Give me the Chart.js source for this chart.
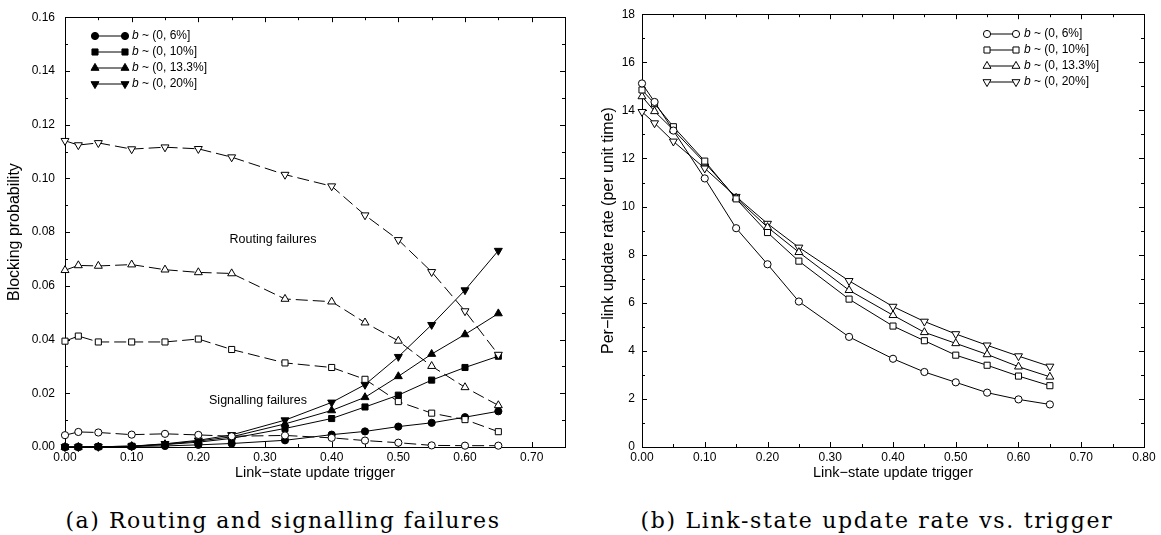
<!DOCTYPE html>
<html>
<head>
<meta charset="utf-8">
<script src="https://cdn.jsdelivr.net/npm/chart.js@4.4.0/dist/chart.umd.min.js"></script>
<style>
  body { margin: 0; background: #fff; width: 1161px; height: 535px; overflow: hidden; position: relative; }
  canvas { position: absolute; top: 0; }
  #leftChart { left: 0; }
  #rightChart { left: 580px; }
  .caption { position: absolute; top: 507px; font-family: "DejaVu Serif", serif; font-size: 22px; line-height: 27px; color: #000; white-space: nowrap; }
</style>
</head>
<body>
<canvas id="leftChart" width="580" height="482"></canvas>
<canvas id="rightChart" width="581" height="482"></canvas>
<div class="caption" id="capA">(a) Routing and signalling failures</div>
<div class="caption" id="capB">(b) Link-state update rate vs. trigger</div>
<script>
const triggerValues = [0, 0.02, 0.05, 0.10, 0.15, 0.20, 0.25, 0.33, 0.40, 0.45, 0.50, 0.55, 0.60, 0.65];
const seriesLabels = ['(0, 6%]', '(0, 10%]', '(0, 13.3%]', '(0, 20%]'];

// tick labels
const leftXTicks = [0, 0.1, 0.2, 0.3, 0.4, 0.5, 0.6, 0.7];
const rightXTicks = [0, 0.1, 0.2, 0.3, 0.4, 0.5, 0.6, 0.7, 0.8];
const leftYTicks = [0, 0.02, 0.04, 0.06, 0.08, 0.10, 0.12, 0.14, 0.16];
const rightYTicks = [0, 2, 4, 6, 8, 10, 12, 14, 16, 18];

// routing failures (open markers, dashed)
const routing6 = [0.0044, 0.0056, 0.0054, 0.0046, 0.0049, 0.0045, 0.0040, 0.0043, 0.0034, 0.0024, 0.0016, 0.0006, 0.0005, 0.0005];
const routing10 = [0.0394, 0.0413, 0.0391, 0.0391, 0.0391, 0.0402, 0.0363, 0.0313, 0.0296, 0.0252, 0.0169, 0.0126, 0.0102, 0.0057];
const routing133 = [0.0658, 0.0676, 0.0674, 0.0679, 0.0660, 0.0650, 0.0646, 0.0551, 0.0541, 0.0463, 0.0395, 0.0301, 0.0222, 0.0155];
const routing20 = [0.1140, 0.1124, 0.1132, 0.1109, 0.1116, 0.1110, 0.1079, 0.1014, 0.0971, 0.0863, 0.0771, 0.0652, 0.0506, 0.0344];

// signalling failures (filled markers, solid)
const signal6 = [0, 0, 0.0001, 0.0002, 0.0004, 0.0008, 0.0013, 0.0025, 0.0046, 0.0058, 0.0076, 0.0090, 0.0111, 0.0133];
const signal10 = [0, 0, 0.0001, 0.0003, 0.0009, 0.0018, 0.0032, 0.0069, 0.0106, 0.0149, 0.0193, 0.0249, 0.0296, 0.0338];
const signal133 = [0, 0, 0.0001, 0.0003, 0.0010, 0.0022, 0.0038, 0.0086, 0.0136, 0.0185, 0.0263, 0.0346, 0.0419, 0.0497];
const signal20 = [0, 0, 0.0001, 0.0003, 0.0012, 0.0025, 0.0045, 0.0100, 0.0166, 0.0232, 0.0336, 0.0455, 0.0584, 0.0731];

// per-link update rate
const rate6 = [15.12, 14.35, 13.16, 11.17, 9.10, 7.60, 6.05, 4.58, 3.67, 3.12, 2.69, 2.26, 1.98, 1.77];
const rate10 = [14.85, 14.28, 13.32, 11.89, 10.32, 8.92, 7.73, 6.15, 5.03, 4.42, 3.82, 3.40, 2.95, 2.55];
const rate133 = [14.58, 13.96, 13.19, 11.82, 10.36, 9.14, 8.10, 6.52, 5.48, 4.77, 4.31, 3.85, 3.34, 2.92];
const rate20 = [13.94, 13.47, 12.71, 11.59, 10.41, 9.29, 8.30, 6.91, 5.84, 5.22, 4.70, 4.23, 3.78, 3.35];

const markers = [
    { pointStyle: 'circle', rotation: 0, radius: 3.6 },
    { pointStyle: 'rect', rotation: 0, radius: 4.3 },
    { pointStyle: 'triangle', rotation: 0, radius: 4.6 },
    { pointStyle: 'triangle', rotation: 180, radius: 4.6 }
];

const sansFont = 'Liberation Sans';

function makeSeries(values, idx, filled, dashed) {
    const m = markers[idx];
    return {
        label: seriesLabels[idx],
        data: triggerValues.map((x, i) => ({ x: x, y: values[i] })),
        borderColor: '#000',
        borderWidth: 1,
        borderDash: dashed ? [12, 5] : [],
        pointStyle: m.pointStyle,
        pointRotation: m.rotation,
        pointRadius: m.radius,
        pointBackgroundColor: filled ? '#000' : '#fff',
        pointBorderColor: '#000',
        pointBorderWidth: 1,
        fill: false,
        tension: 0,
        clip: false
    };
}

// frame + inward tick marks on all four sides
function frameTicks(xMinor, xMajor, yMinor, yMajor) {
    return {
        id: 'frameTicks',
        beforeDatasetsDraw(chart) {
            const ctx = chart.ctx;
            const a = chart.chartArea;
            const xs = chart.scales.x, ys = chart.scales.y;
            ctx.save();
            ctx.strokeStyle = '#000';
            ctx.lineWidth = 1;
            ctx.strokeRect(Math.round(a.left) + 0.5, Math.round(a.top) + 0.5, Math.round(a.right - a.left), Math.round(a.bottom - a.top));
            ctx.beginPath();
            for (let v = xs.min; v <= xs.max + 1e-9; v += xMinor) {
                const major = Math.abs(v / xMajor - Math.round(v / xMajor)) < 1e-6;
                const len = major ? 5 : 3;
                const px = Math.round(xs.getPixelForValue(v)) + 0.5;
                ctx.moveTo(px, a.bottom); ctx.lineTo(px, a.bottom - len);
                ctx.moveTo(px, a.top); ctx.lineTo(px, a.top + len);
            }
            for (let v = ys.min; v <= ys.max + 1e-9; v += yMinor) {
                const major = Math.abs(v / yMajor - Math.round(v / yMajor)) < 1e-6;
                const len = major ? 5 : 3;
                const py = Math.round(ys.getPixelForValue(v)) + 0.5;
                ctx.moveTo(a.left, py); ctx.lineTo(a.left + len, py);
                ctx.moveTo(a.right, py); ctx.lineTo(a.right - len, py);
            }
            ctx.stroke();
            ctx.restore();
        }
    };
}

// legend: line with a marker at both ends, italic b
function legendBlock(datasets, x1, x2, textX, yStart, step) {
    return {
        id: 'legendBlock',
        afterDraw(chart) {
            const ctx = chart.ctx;
            ctx.save();
            datasets.forEach((ds, i) => {
                const y = yStart + i * step;
                ctx.strokeStyle = '#000';
                ctx.lineWidth = 1;
                ctx.setLineDash([]);
                ctx.beginPath();
                ctx.moveTo(x1, y); ctx.lineTo(x2, y);
                ctx.stroke();
                ctx.fillStyle = ds.pointBackgroundColor;
                const opts = { pointStyle: ds.pointStyle, rotation: ds.pointRotation, radius: ds.pointRadius, borderWidth: 1 };
                Chart.helpers.drawPoint(ctx, opts, x1, y);
                Chart.helpers.drawPoint(ctx, opts, x2, y);
                ctx.fillStyle = '#000';
                ctx.textBaseline = 'middle';
                ctx.textAlign = 'left';
                ctx.font = 'italic 12px "' + sansFont + '"';
                ctx.fillText('b', textX, y);
                const bw = ctx.measureText('b').width;
                ctx.font = '12px "' + sansFont + '"';
                ctx.fillText(' ~ ' + ds.label, textX + bw, y);
            });
            ctx.restore();
        }
    };
}

function notes(items) {
    return {
        id: 'notes',
        afterDraw(chart) {
            const ctx = chart.ctx;
            ctx.save();
            ctx.fillStyle = '#000';
            ctx.font = '12.5px "' + sansFont + '"';
            ctx.textAlign = 'center';
            ctx.textBaseline = 'middle';
            items.forEach(n => {
                ctx.fillText(n.text, chart.scales.x.getPixelForValue(n.x), chart.scales.y.getPixelForValue(n.y));
            });
            ctx.restore();
        }
    };
}

function axes(xMax, xTicks, yMax, yTicks, yFmt, yTitle, yWidth, yPad, yTitlePad) {
    const tickFont = { family: sansFont, size: 12 };
    return {
        x: {
            type: 'linear', min: 0, max: xMax,
            afterBuildTicks: s => { s.ticks = xTicks.map(v => ({ value: v })); },
            afterFit: s => { s.height = 35; },
            ticks: { callback: v => v.toFixed(2), font: tickFont, color: '#000', padding: 3, maxRotation: 0, autoSkip: false },
            grid: { display: false, drawTicks: false },
            border: { display: false },
            title: { display: true, text: 'Link\u2212state update trigger', font: { family: sansFont, size: 14.5 }, color: '#000', padding: { top: 0, bottom: 0 } }
        },
        y: {
            type: 'linear', min: 0, max: yMax,
            afterBuildTicks: s => { s.ticks = yTicks.map(v => ({ value: v })); },
            afterFit: s => { s.width = yWidth; },
            ticks: { callback: yFmt, font: tickFont, color: '#000', padding: yPad, autoSkip: false },
            grid: { display: false, drawTicks: false },
            border: { display: false },
            title: { display: true, text: yTitle, font: { family: sansFont, size: 16 }, color: '#000', padding: { top: yTitlePad, bottom: 0 } }
        }
    };
}

const leftSets = [
    makeSeries(routing6, 0, false, true),
    makeSeries(routing10, 1, false, true),
    makeSeries(routing133, 2, false, true),
    makeSeries(routing20, 3, false, true),
    makeSeries(signal6, 0, true, false),
    makeSeries(signal10, 1, true, false),
    makeSeries(signal133, 2, true, false),
    makeSeries(signal20, 3, true, false)
];

new Chart(document.getElementById('leftChart'), {
    type: 'line',
    data: { datasets: leftSets },
    options: {
        responsive: false,
        animation: false,
        devicePixelRatio: 1,
        layout: { padding: { top: 9, right: 15, left: 0, bottom: 0 } },
        plugins: { legend: { display: false }, tooltip: { enabled: false } },
        scales: axes(0.75, leftXTicks, 0.16, leftYTicks, v => v.toFixed(2), 'Blocking probability', 65, 10, 5)
    },
    plugins: [
        frameTicks(0.05, 0.1, 0.01, 0.02),
        legendBlock(leftSets.slice(4), 95, 125, 132, 36, 16),
        notes([
            { text: 'Routing failures', x: 0.312, y: 0.0771 },
            { text: 'Signalling failures', x: 0.2895, y: 0.0172 }
        ])
    ]
});

const rightSets = [
    makeSeries(rate6, 0, false, false),
    makeSeries(rate10, 1, false, false),
    makeSeries(rate133, 2, false, false),
    makeSeries(rate20, 3, false, false)
];

new Chart(document.getElementById('rightChart'), {
    type: 'line',
    data: { datasets: rightSets },
    options: {
        responsive: false,
        animation: false,
        devicePixelRatio: 1,
        layout: { padding: { top: 7, right: 17, left: 0, bottom: 0 } },
        plugins: { legend: { display: false }, tooltip: { enabled: false } },
        scales: axes(0.8, rightXTicks, 18, rightYTicks, v => String(v), 'Per\u2212link update rate (per unit time)', 62, 7, 18.5)
    },
    plugins: [
        frameTicks(0.05, 0.1, 1, 2),
        legendBlock(rightSets, 407, 436, 444, 34, 16)
    ]
});

function fitCaption(id, centerX, target) {
    const el = document.getElementById(id);
    const w = el.getBoundingClientRect().width;
    const n = el.textContent.length;
    el.style.letterSpacing = ((target - w) / n) + 'px';
    const w2 = el.getBoundingClientRect().width;
    el.style.left = (centerX - w2 / 2) + 'px';
}
fitCaption('capA', 283, 435);
fitCaption('capB', 877, 473);
</script>
</body>
</html>
